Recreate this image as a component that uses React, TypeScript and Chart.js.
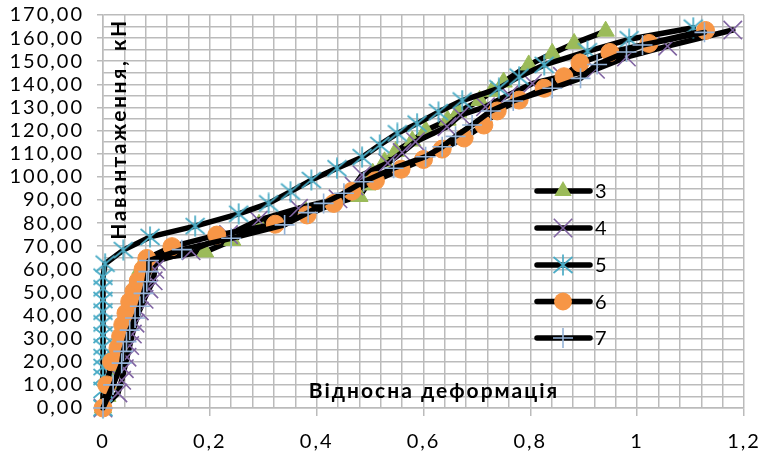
import React, { useEffect, useRef } from 'react';
import { Chart, registerables } from 'chart.js';

Chart.register(...registerables);

// ---- data (deformation = x, load kN = y) ----
const seriesNames = ['3', '4', '5', '6', '7'];

const def3 = [0, 0.008, 0.015, 0.022, 0.028, 0.033, 0.038, 0.043, 0.048, 0.053, 0.058, 0.063, 0.07, 0.078, 0.191, 0.242, 0.292, 0.38, 0.48, 0.495, 0.505, 0.527, 0.548, 0.579, 0.604, 0.645, 0.665, 0.705, 0.728, 0.75, 0.797, 0.841, 0.882, 0.941];
const load3 = [0, 5, 10, 15, 20, 25, 30, 35, 40, 45, 50, 55, 60, 64, 67.5, 72.5, 79.5, 85, 91.5, 96.5, 101.5, 106.5, 111, 115.5, 120, 124.5, 128, 133, 137, 141, 148.4, 153.4, 157.7, 163];

const def4 = [0, 0.028, 0.035, 0.04, 0.045, 0.05, 0.055, 0.06, 0.068, 0.077, 0.086, 0.094, 0.097, 0.1, 0.165, 0.235, 0.291, 0.366, 0.44, 0.47, 0.485, 0.533, 0.56, 0.585, 0.644, 0.669, 0.716, 0.76, 0.804, 0.86, 0.922, 0.98, 1.057, 1.179];
const load4 = [0, 6.5, 12, 17, 22, 27, 32, 36.7, 42, 47, 51.5, 55, 60, 63.5, 68, 75, 81.3, 86.4, 90.5, 96, 100.8, 106, 110.5, 115.2, 121.7, 126.7, 130.3, 135.5, 140.4, 143.5, 146.5, 151.8, 156.5, 163.5];

const def5 = [0, 0, 0, 0, 0, 0, 0, 0, 0, 0, 0, 0, 0.004, 0.038, 0.088, 0.1725, 0.254, 0.31, 0.351, 0.39, 0.438, 0.485, 0.518, 0.551, 0.588, 0.628, 0.6725, 0.741, 0.779, 0.826, 0.907, 0.985, 1.105];
const load5 = [0, 7.8, 13.4, 17.7, 22, 26.5, 31.6, 36.6, 41.7, 46.7, 51.8, 56.8, 62.4, 68.3, 74, 78.7, 84, 88.5, 93.6, 98.6, 103.7, 108.5, 113.8, 118.8, 123, 128, 133, 138.3, 143.3, 148.4, 154.3, 159.5, 164.5];

const def6 = [0, 0.007, 0.016, 0.028, 0.033, 0.037, 0.043, 0.05, 0.058, 0.066, 0.075, 0.082, 0.129, 0.213, 0.3225, 0.382, 0.432, 0.466, 0.51, 0.558, 0.6, 0.635, 0.676, 0.713, 0.738, 0.779, 0.826, 0.863, 0.893, 0.949, 1.022, 1.128];
const load6 = [0, 10, 20, 26, 31, 36, 41, 46, 50.5, 55, 60, 64.7, 69.8, 74.8, 79.5, 83.5, 88.5, 93.8, 98.3, 103.3, 107.5, 112, 116.8, 122.4, 128.5, 133.2, 138.3, 143.3, 149.3, 153.8, 157.7, 163.3];

const def7 = [0, 0.019, 0.035, 0.038, 0.044, 0.05, 0.06, 0.069, 0.076, 0.082, 0.085, 0.086, 0.1475, 0.24, 0.34, 0.384, 0.413, 0.451, 0.488, 0.544, 0.604, 0.635, 0.66, 0.691, 0.726, 0.768, 0.841, 0.894, 0.925, 0.98, 1.01, 1.126];
const load7 = [0, 10, 19.4, 24.5, 28.7, 33.7, 38.9, 44, 49.6, 54.6, 59, 63.8, 68.5, 73.4, 79.2, 84.5, 88.5, 92.9, 97.9, 103.7, 108.7, 113, 117.5, 122.4, 128.5, 132.8, 138.3, 142.6, 148.6, 154, 157, 162.5];

const xTitle = 'Відносна деформація';
const yTitle = 'Навантаження, кН';
const xMin = 0, xMax = 1.2, xMajor = 0.2, xMinor = 0.04;
const yMin = 0, yMax = 170, yMajor = 10, yMinor = 5;

const colors = ['#9BBB59', '#8064A2', '#4BACC6', '#F79646', '#95B3D7'];
const FONT = 'Lato, "Open Sans", "DejaVu Sans", sans-serif';
const GRID = '#BBBBBB';

function makeStar(color: string) {
  const c = document.createElement('canvas');
  c.width = 22; c.height = 22;
  const g = c.getContext('2d')!;
  g.strokeStyle = color; g.lineWidth = 1.7;
  g.beginPath();
  g.moveTo(11, 0.5); g.lineTo(11, 21.5);
  g.moveTo(1.5, 3); g.lineTo(20.5, 19);
  g.moveTo(1.5, 19); g.lineTo(20.5, 3);
  g.stroke();
  return c;
}

const isMult = (v: number, step: number) => Math.abs(v / step - Math.round(v / step)) < 1e-6;
const fmtX = (v: number) => (Math.round(v * 10) / 10).toString().replace('.', ',');
const fmtY = (v: number) => v.toFixed(2).replace('.', ',');

export default function App() {
  const ref = useRef<HTMLCanvasElement>(null);
  useEffect(() => {
    const star = makeStar(colors[2]);
    const pts = (d: number[], l: number[]) => d.map((x, i) => ({ x, y: l[i] }));
    const styles: any[] = ['triangle', 'crossRot', star, 'circle', 'cross'];
    const radii = [10, 13, 11, 9, 10];
    const all = [[def3, load3], [def4, load4], [def5, load5], [def6, load6], [def7, load7]];
    const datasets = all.map((s, i) => ({
      label: seriesNames[i],
      data: pts(s[0], s[1]),
      borderColor: '#000',
      borderWidth: 5.5,
      borderCapStyle: 'round' as const,
      borderJoinStyle: 'round' as const,
      pointStyle: styles[i],
      pointRadius: radii[i],
      pointBackgroundColor: colors[i],
      pointBorderColor: colors[i],
      pointBorderWidth: i === 1 || i === 4 ? 1.6 : 1,
      tension: 0,
      clip: false as any,
      order: 5 - i,
    }));

    const overlay = {
      id: 'overlay',
      beforeDraw(chart: any) {
        chart.ctx.letterSpacing = '2px';
      },
      afterDraw(chart: any) {
        const ctx = chart.ctx as CanvasRenderingContext2D;
        ctx.save();
        (ctx as any).letterSpacing = '2px';
        // legend
        const ly = [191, 228, 265, 301.5, 338];
        for (let i = 0; i < 5; i++) {
          const y = ly[i];
          ctx.strokeStyle = '#000'; ctx.lineWidth = 5.5; ctx.lineCap = 'round';
          ctx.beginPath(); ctx.moveTo(537, y); ctx.lineTo(590, y); ctx.stroke();
          const cx = 563, c = colors[i];
          ctx.fillStyle = c; ctx.strokeStyle = c; ctx.lineCap = 'butt';
          if (i === 0) {
            const r = 10;
            ctx.beginPath();
            ctx.moveTo(cx, y - r);
            ctx.lineTo(cx + r * 0.866, y + r / 2);
            ctx.lineTo(cx - r * 0.866, y + r / 2);
            ctx.closePath(); ctx.fill();
          } else if (i === 1) {
            const o = 13 * 0.7071; ctx.lineWidth = 1.6;
            ctx.beginPath();
            ctx.moveTo(cx - o, y - o); ctx.lineTo(cx + o, y + o);
            ctx.moveTo(cx - o, y + o); ctx.lineTo(cx + o, y - o);
            ctx.stroke();
          } else if (i === 2) {
            ctx.drawImage(star, cx - 11, y - 11);
          } else if (i === 3) {
            ctx.beginPath(); ctx.arc(cx, y, 9, 0, Math.PI * 2); ctx.fill();
          } else {
            ctx.lineWidth = 1.6;
            ctx.beginPath();
            ctx.moveTo(cx - 10, y); ctx.lineTo(cx + 10, y);
            ctx.moveTo(cx, y - 10); ctx.lineTo(cx, y + 10);
            ctx.stroke();
          }
          ctx.fillStyle = '#000';
          ctx.font = `20px ${FONT}`;
          ctx.textAlign = 'left'; ctx.textBaseline = 'middle';
          ctx.fillText(seriesNames[i], 595, y + 1);
        }
        // axis titles inside plot
        ctx.fillStyle = '#000';
        ctx.font = `bold 21px ${FONT}`;
        ctx.textAlign = 'center'; ctx.textBaseline = 'alphabetic';
        ctx.fillText(xTitle, 434, 398);
        ctx.save();
        (ctx as any).letterSpacing = '2.5px';
        ctx.translate(126, 129);
        ctx.rotate(-Math.PI / 2);
        ctx.fillText(yTitle, 0, 0);
        ctx.restore();
        ctx.restore();
      },
    };

    const chart = new Chart(ref.current!, {
      type: 'line',
      data: { datasets },
      plugins: [overlay],
      options: {
        animation: false,
        responsive: false,
        maintainAspectRatio: false,
        events: [],
        layout: { padding: { top: 15, right: 20, left: 0, bottom: 0 } },
        plugins: { legend: { display: false }, tooltip: { enabled: false } },
        scales: {
          x: {
            type: 'linear', min: xMin, max: xMax,
            ticks: {
              stepSize: xMinor, autoSkip: false, maxRotation: 0, minRotation: 0,
              callback: (v: any) => (isMult(Number(v), xMajor) ? fmtX(Number(v)) : ''),
              font: { family: FONT, size: 20 }, color: '#000', padding: 14,
            },
            grid: {
              color: GRID, lineWidth: 1.5, tickLength: 8,
              tickColor: (c: any) => (c.tick && isMult(c.tick.value, xMajor) ? GRID : 'rgba(0,0,0,0)'),
            },
            border: { color: GRID, width: 1.5 },
            afterFit: (s: any) => { s.height = 51; s.paddingLeft = 0; s.paddingRight = 0; },
          },
          y: {
            type: 'linear', min: yMin, max: yMax,
            ticks: {
              stepSize: yMinor, autoSkip: false,
              callback: (v: any) => (isMult(Number(v), yMajor) ? fmtY(Number(v)) : ''),
              font: { family: FONT, size: 20 }, color: '#000', padding: 13,
            },
            grid: {
              color: GRID, lineWidth: 1.5, tickLength: 6,
              tickColor: (c: any) => (c.tick && isMult(c.tick.value, yMajor) ? GRID : 'rgba(0,0,0,0)'),
            },
            border: { color: GRID, width: 1.5 },
            afterFit: (s: any) => { s.width = 103; s.paddingTop = 0; s.paddingBottom = 0; },
          },
        },
      } as any,
    });
    return () => chart.destroy();
  }, []);

  return (
    <div style={{ position: 'absolute', left: 0, top: 0, width: 764, height: 459, background: '#fff' }}>
      <canvas ref={ref} width={764} height={459} style={{ display: 'block', width: 764, height: 459 }} />
    </div>
  );
}
